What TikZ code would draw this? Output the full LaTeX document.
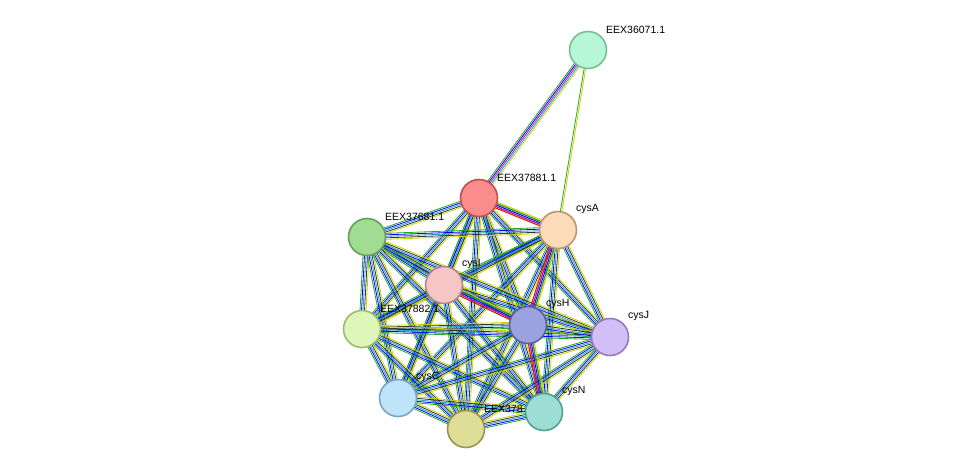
\documentclass[tikz,border=0pt]{standalone}
\usepackage{fontspec}\setmainfont{Liberation Sans}
\usetikzlibrary{calc}
\pgfdeclarelayer{bg}\pgfsetlayers{bg,main}
\definecolor{tm}{HTML}{C8D400}
\definecolor{nb}{HTML}{1FA91F}
\newcommand\mkedge[3]{%
 \foreach \c [count=\i] in {#3}{\xdef\nn{\i}}%
 \foreach \c [count=\i] in {#3}{%
  \pgfmathsetmacro\o{(\i-(\nn+1)/2)*1.5}%
  \draw[\c,line width=0.8pt] ($(#1.center)!\o pt!90:(#2.center)$) -- ($(#2.center)!\o pt!-90:(#1.center)$);}}
\begin{document}
\begin{tikzpicture}[x=1pt,y=-1pt,
 prot/.style={circle,draw,line width=1.6pt,minimum size=37pt,inner sep=0},
 lab/.style={font=\fontsize{10.5}{12}\selectfont,anchor=south west,inner sep=0pt}]
\useasboundingbox (0,0) rectangle (976,475);
\node[prot,fill={rgb,255:red,183;green,246;blue,214},draw={rgb,255:red,120;green,190;blue,150}] (e36) at (588,50) {};
\node[prot,fill={rgb,255:red,250;green,140;blue,140},draw={rgb,255:red,190;green,80;blue,80}] (a) at (479,198) {};
\node[prot,fill={rgb,255:red,253;green,218;blue,184},draw={rgb,255:red,190;green,150;blue,110}] (A) at (558,230) {};
\node[prot,fill={rgb,255:red,160;green,220;blue,145},draw={rgb,255:red,100;green,160;blue,90}] (g) at (367,237) {};
\node[prot,fill={rgb,255:red,246;green,198;blue,198},draw={rgb,255:red,185;green,130;blue,130}] (I) at (444,285) {};
\node[prot,fill={rgb,255:red,222;green,246;blue,184},draw={rgb,255:red,160;green,185;blue,120}] (p) at (362,329) {};
\node[prot,fill={rgb,255:red,156;green,162;blue,222},draw={rgb,255:red,90;green,95;blue,160}] (H) at (528,325) {};
\node[prot,fill={rgb,255:red,212;green,190;blue,248},draw={rgb,255:red,150;green,120;blue,190}] (J) at (610,337) {};
\node[prot,fill={rgb,255:red,190;green,228;blue,250},draw={rgb,255:red,120;green,165;blue,195}] (C) at (398,398) {};
\node[prot,fill={rgb,255:red,222;green,222;blue,152},draw={rgb,255:red,150;green,150;blue,80}] (k) at (466,429) {};
\node[prot,fill={rgb,255:red,156;green,222;blue,214},draw={rgb,255:red,80;green,160;blue,150}] (N) at (544,412) {};
\begin{pgfonlayer}{bg}
\mkedge{e36}{a}{nb,blue,magenta,cyan,tm}
\mkedge{e36}{A}{nb,tm}
\foreach \u/\v in {a/A,a/g,a/I,a/p,a/H,a/J,a/C,a/k,a/N,A/g,A/I,A/p,A/H,A/J,A/C,A/k,A/N,g/I,g/p,g/H,g/J,g/C,g/k,g/N,I/p,I/H,I/J,I/C,I/k,I/N,p/H,p/J,p/C,p/k,p/N,H/J,H/C,H/k,H/N,J/C,J/k,J/N,C/k,C/N,k/N}{
 \mkedge{\u}{\v}{nb,blue,cyan!80!black,black!80,tm}}
\mkedge{a}{A}{red,magenta,blue,nb,tm}
\mkedge{I}{H}{red,magenta,blue,nb,tm}
\mkedge{H}{N}{red,magenta,blue,nb,tm}
\mkedge{A}{H}{red,magenta,blue,nb,tm}
\end{pgfonlayer}
\node[lab] at (606,34) {EEX36071.1};
\node[lab] at (497,182) {EEX37881.1};
\node[lab] at (576,214) {cysA};
\node[lab] at (385,221) {EEX37681.1};
\node[lab] at (462,269) {cysI};
\node[lab] at (380,313) {EEX37882.1};
\node[lab] at (546,309) {cysH};
\node[lab] at (628,321) {cysJ};
\node[lab] at (416,382) {cysC};
\node[lab] at (484,413) {EEX378};
\node[lab] at (562,396) {cysN};
\end{tikzpicture}
\end{document}
